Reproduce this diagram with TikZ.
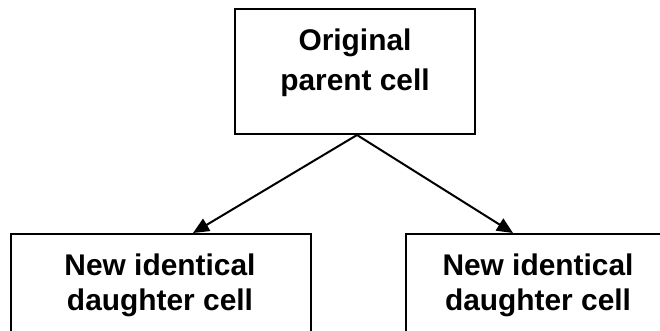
\documentclass[tikz,border=0pt]{standalone}
\usepackage{fontspec}
\setmainfont{Liberation Sans}
\usetikzlibrary{arrows.meta}
\begin{document}
\begin{tikzpicture}[x=1bp,y=-1bp,
  cellbox/.style={draw, line width=2bp, inner sep=0pt},
  celltext/.style={font=\fontsize{30}{38}\selectfont\bfseries, anchor=base, inner sep=0pt},
  link/.style={line width=2bp, -{Triangle[length=16bp,width=14bp]}}]
\useasboundingbox (0,0) rectangle (660,330);
\clip (0,0) rectangle (660,330);

% parent cell
\node[cellbox, minimum width=240bp, minimum height=125bp] (parent) at (355,71.5) {};
\node[celltext] (parentA) at (355,50) {Original};
\node[celltext] (parentB) at (355,90) {parent cell};

% daughter cells (run past the lower and right edges)
\node[cellbox, minimum width=300bp, minimum height=112bp] (left) at (161,290) {};
\node[celltext] (leftA) at (160,275) {New identical};
\node[celltext] (leftB) at (160,310) {daughter cell};

\node[cellbox, minimum width=265bp, minimum height=112bp] (right) at (538.5,290) {};
\node[celltext] (rightA) at (538,275) {New identical};
\node[celltext] (rightB) at (538,310) {daughter cell};

% division arrows
\draw[link] ([xshift=2bp]parent.south) -- ([xshift=32bp]left.north);
\draw[link] ([xshift=2bp]parent.south) -- ([xshift=-25.5bp]right.north);
\end{tikzpicture}
\end{document}
